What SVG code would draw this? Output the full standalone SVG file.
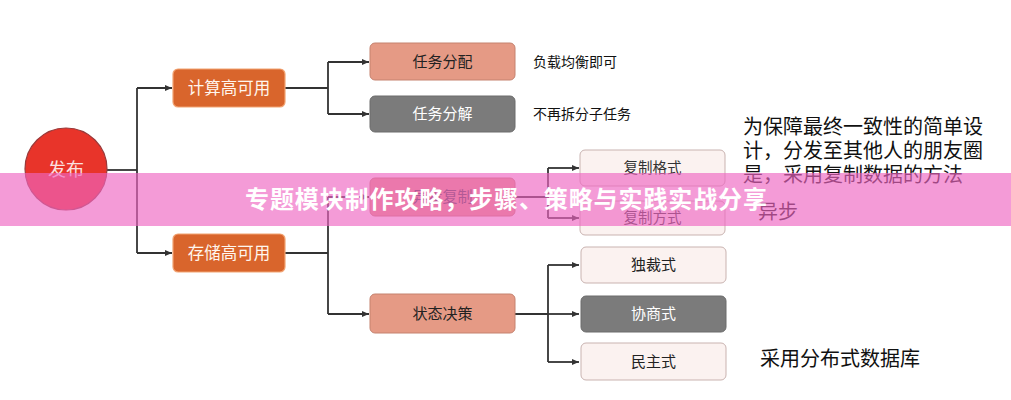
<svg xmlns="http://www.w3.org/2000/svg" width="1011" height="400" viewBox="0 0 1011 400">
<defs>
<marker id="arr" markerWidth="8" markerHeight="8" refX="7" refY="4" orient="auto" markerUnits="userSpaceOnUse">
<path d="M0,1 L7,4 L0,7 Z" fill="#333"/>
</marker>
<style>
text{font-family:"Noto Sans CJK SC","Liberation Sans",sans-serif;}
.c{fill:none;stroke:#333;stroke-width:1.8;}
.a{marker-end:url(#arr);}
.or{fill:#d9652c;stroke:#f2a473;stroke-width:1.2;}
.sa{fill:#e59a85;stroke:#c5826f;stroke-width:1;}
.gr{fill:#7b7b7b;stroke:#6c6c6c;stroke-width:1;}
.lt{fill:#fbf2f0;stroke:#c9b3b0;stroke-width:1;}
.tw{fill:#fff;font-size:15px;text-anchor:middle;}
.tk{fill:#222;font-size:15px;text-anchor:middle;}
.tl{fill:#111;font-size:14px;}
.tb{fill:#111;font-size:20px;}
</style>
</defs>
<rect width="1011" height="400" fill="#fff"/>
<g id="connectors">
<path class="c" d="M107,170 H137"/>
<path class="c" d="M137,88 V253"/>
<path class="c a" d="M137,88 H172"/>
<path class="c a" d="M137,253 H172"/>
<path class="c" d="M285,88 H328 M328,62 V114"/>
<path class="c a" d="M328,62 H369"/>
<path class="c a" d="M328,114 H369"/>
<path class="c" d="M285,253 H328 M328,197 V314"/>
<path class="c a" d="M328,197 H369"/>
<path class="c a" d="M328,314 H369"/>
<path class="c" d="M515,197 H548 M548,168 V218"/>
<path class="c a" d="M548,168 H579"/>
<path class="c a" d="M548,218 H579"/>
<path class="c" d="M515,314 H548 M548,265 V362"/>
<path class="c a" d="M548,265 H579"/>
<path class="c a" d="M548,314 H579"/>
<path class="c a" d="M548,362 H579"/>
</g>
<g id="n-fabu">
<circle cx="66" cy="169" r="41" fill="#e8342a" stroke="#9a3a3a" stroke-width="1.2"/>
<text x="66" y="176" style="fill:#fbe0e0;font-size:18px;text-anchor:middle;">发布</text>
</g>
<g id="n-jisuan">
<rect class="or" x="173" y="69" width="112" height="38" rx="5"/>
<text class="tw" x="229" y="94" style="font-size:16.5px;fill:#fff6ee;">计算高可用</text>
</g>
<g id="n-cunchu">
<rect class="or" x="173" y="234" width="112" height="38" rx="5"/>
<text class="tw" x="229" y="259" style="font-size:16.5px;fill:#fff6ee;">存储高可用</text>
</g>
<g id="n-fenpei">
<rect class="sa" x="370" y="43" width="145" height="37" rx="5"/>
<text class="tk" x="442.5" y="67">任务分配</text>
</g>
<g id="n-fenjie">
<rect class="gr" x="370" y="96" width="145" height="36" rx="5"/>
<text class="tw" x="442.5" y="119">任务分解</text>
</g>
<g id="n-fuzhi">
<rect class="sa" x="370" y="178" width="145" height="38" rx="5"/>
<text class="tk" x="442.5" y="202" style="fill:#444;">异步复制</text>
</g>
<g id="n-zhuangtai">
<rect class="sa" x="370" y="294" width="145" height="39" rx="5"/>
<text class="tk" x="442.5" y="319">状态决策</text>
</g>
<g id="n-geshi">
<rect class="lt" x="580" y="150" width="145" height="36" rx="5"/>
<text class="tk" x="652.5" y="173" style="font-size:14.5px;fill:#333;">复制格式</text>
</g>
<g id="n-fangshi">
<rect class="lt" x="580" y="201" width="145" height="34" rx="5"/>
<text class="tk" x="652.5" y="223" style="font-size:14.5px;fill:#333;">复制方式</text>
</g>
<g id="n-ducai">
<rect class="lt" x="581" y="247" width="145" height="36" rx="5"/>
<text class="tk" x="653.5" y="270">独裁式</text>
</g>
<g id="n-xieshang">
<rect class="gr" x="581" y="296" width="145" height="36" rx="5"/>
<text class="tw" x="653.5" y="319">协商式</text>
</g>
<g id="n-minzhu">
<rect class="lt" x="581" y="343" width="145" height="37" rx="5"/>
<text class="tk" x="653.5" y="367">民主式</text>
</g>
<g id="labels">
<text class="tl" x="533" y="67">负载均衡即可</text>
<text class="tl" x="533" y="119">不再拆分子任务</text>
<text class="tb" x="743" y="134">为保障最终一致性的简单设</text>
<text class="tb" x="743" y="158">计，分发至其他人的朋友圈</text>
<text class="tb" x="743" y="182">是，采用复制数据的方法</text>
<text class="tb" x="758" y="219">异步</text>
<text class="tb" x="760" y="366">采用分布式数据库</text>
</g>
<g id="banner">
<rect x="0" y="173" width="1011" height="53" fill="rgb(238,101,194)" fill-opacity="0.65"/>
<text x="506" y="208" textLength="522" lengthAdjust="spacing" style="fill:#fff;font-size:24px;font-weight:bold;text-anchor:middle;">专题模块制作攻略，步骤、策略与实践实战分享</text>
</g>
</svg>
